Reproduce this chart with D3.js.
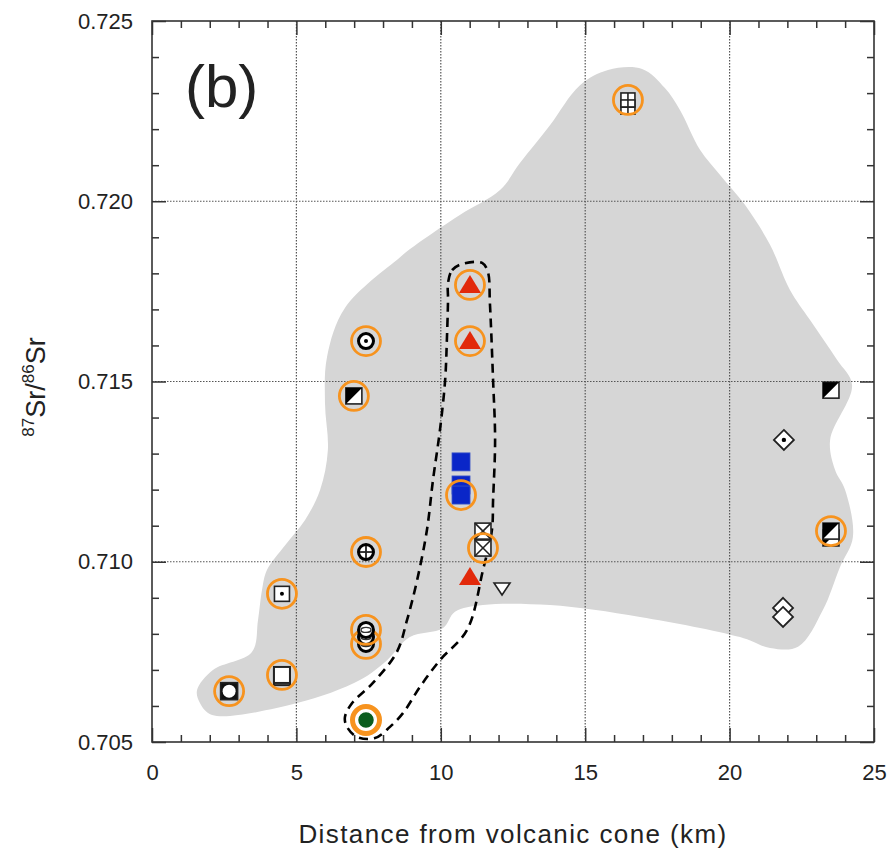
<!DOCTYPE html>
<meta charset="utf-8">
<style>
    body { margin: 0; background: #fff; }
    svg text { font-family: "Liberation Sans", Arial, sans-serif; fill: #222; }
</style>
<svg width="889" height="852" class="srPlot"></svg>
<script src="https://cdn.jsdelivr.net/npm/d3@7"></script>
<script>

// axis ticks
var xMajor = [0, 5, 10, 15, 20, 25];
var yMajor = [0.705, 0.710, 0.715, 0.720, 0.725];
var xGrid = [5, 10, 15, 20];
var yGrid = [0.710, 0.715, 0.720];

// samples: distance (km), 87Sr/86Sr, symbol, orange ring (0 none, 1 thin, 2 thick)
var sampleX = [16.48, 16.48, 11.01, 11.01, 11.01, 7.41, 6.99, 10.70, 10.70, 10.70,
    11.46, 11.46, 12.12, 7.41, 7.41, 7.41, 7.41, 4.50, 4.50, 4.50, 2.67, 7.41,
    21.88, 21.85, 21.85, 23.51, 23.51, 23.51];
var sampleY = [0.72261, 0.72281, 0.71768, 0.71612, 0.70958, 0.71612, 0.71460, 0.71277, 0.71213, 0.71185,
    0.71085, 0.71038, 0.70927, 0.71027, 0.70772, 0.70791, 0.70811, 0.70911, 0.70680, 0.70686, 0.70641, 0.70561,
    0.71338, 0.70872, 0.70847, 0.71476, 0.71066, 0.71085];
var sampleShape = ['gridSquare', 'gridSquare', 'redTriangle', 'redTriangle', 'redTriangle', 'dotCircle', 'halfSquare',
    'blueSquare', 'blueSquare', 'blueSquare', 'crossSquare', 'crossSquare', 'downTriangle', 'plusCircle',
    'thetaCircle', 'thetaCircle', 'thetaCircle', 'dotSquare', 'openSquare', 'openSquare', 'circleSquare', 'greenDot',
    'dotDiamond', 'openDiamond', 'openDiamond', 'halfSquare', 'halfSquare', 'halfSquare'];
var sampleRing = [0, 1, 1, 1, 0, 1, 1, 0, 0, 1,
    0, 1, 0, 1, 1, 0, 1, 1, 0, 1, 1, 2,
    0, 0, 0, 0, 0, 1];

// grey field of all samples
var fieldX = [1.66, 1.56, 2.11, 3.46, 3.67, 3.81, 3.98, 4.61, 5.30, 5.82, 6.09, 5.99, 6.06, 6.68, 8.59, 9.38,
    10.66, 12.05, 12.74, 13.78, 14.82, 15.79, 16.97, 17.76, 18.28, 18.98, 19.67, 20.53, 21.40, 22.09, 22.78,
    23.72, 24.24, 23.48, 23.65, 24.00, 24.27, 23.82, 23.23, 22.37, 21.40, 20.36, 16.90, 13.78, 11.46, 10.49,
    10.08, 8.93, 8.14, 7.20, 5.02, 2.08];
var fieldY = [0.70608, 0.70644, 0.70700, 0.70750, 0.70838, 0.70922, 0.70977, 0.71046, 0.71116, 0.71199, 0.71310,
    0.71440, 0.71568, 0.71704, 0.71845, 0.71893, 0.71962, 0.72031, 0.72106, 0.72211, 0.72322, 0.72364, 0.72367,
    0.72314, 0.72253, 0.72142, 0.72073, 0.71990, 0.71879, 0.71754, 0.71671, 0.71560, 0.71490, 0.71338, 0.71255,
    0.71199, 0.71069, 0.70985, 0.70866, 0.70764, 0.70761, 0.70791, 0.70847, 0.70880, 0.70880, 0.70861, 0.70816,
    0.70791, 0.70727, 0.70672, 0.70608, 0.70575];

// dashed envelope
var loopX = [10.25, 10.39, 10.73, 11.43, 11.63, 11.70, 11.81, 11.88, 11.81, 11.77, 11.46, 10.91, 9.97, 9.28, 8.69,
    8.24, 7.72, 7.10, 6.75, 6.68, 6.93, 7.65, 8.48, 8.83, 9.18, 9.52, 9.73, 9.97, 10.15, 10.21, 10.25];
var loopY = [0.71773, 0.71809, 0.71826, 0.71829, 0.71804, 0.71718, 0.71504, 0.71338, 0.71171, 0.71088, 0.70977,
    0.70811, 0.70727, 0.70653, 0.70580, 0.70542, 0.70511, 0.70514, 0.70542, 0.70569, 0.70608, 0.70664, 0.70750,
    0.70838, 0.70949, 0.71088, 0.71227, 0.71365, 0.71504, 0.71615, 0.71726];


var svg = d3.select("svg.srPlot"),
    margin = {top: 21, right: 15, bottom: 110, left: 152},
    width = +svg.attr("width") - margin.left - margin.right,
    height = +svg.attr("height") - margin.top - margin.bottom;

var x = d3.scaleLinear().domain([0, 25]).range([0, width]);
var y = d3.scaleLinear().domain([0.705, 0.725]).range([height, 0]);

var focus = svg.append("g")
    .attr("transform", "translate(" + margin.left + "," + margin.top + ")");

var field = fieldX.map(function(d, i){ return [d, fieldY[i]] });
var loop = loopX.map(function(d, i){ return [d, loopY[i]] });

var area = d3.line()
    .x(function(d){ return x(d[0]) })
    .y(function(d){ return y(d[1]) })
    .curve(d3.curveCatmullRomClosed.alpha(0.5));

focus.append("path")
    .datum(field)
    .attr("fill", "#d6d6d6")
    .attr("d", area);

// grid
focus.selectAll("line.gx").data(xGrid).enter().append("line")
    .attr("x1", function(d){ return x(d) }).attr("x2", function(d){ return x(d) })
    .attr("y1", 0).attr("y2", height)
    .attr("stroke", "#555").attr("stroke-width", 1.2).attr("stroke-dasharray", "1.5,1.5");
focus.selectAll("line.gy").data(yGrid).enter().append("line")
    .attr("y1", function(d){ return y(d) }).attr("y2", function(d){ return y(d) })
    .attr("x1", 0).attr("x2", width)
    .attr("stroke", "#555").attr("stroke-width", 1.2).attr("stroke-dasharray", "1.5,1.5");

focus.append("path")
    .datum(loop)
    .attr("fill", "none")
    .attr("stroke", "#000")
    .attr("stroke-width", 2.6)
    .attr("stroke-dasharray", "9,6")
    .attr("d", area);

// symbols
function drawSymbol(g, shape){
    var s = 8;
    function sq(fill, sw){
        g.append("rect").attr("x", -s).attr("y", -s).attr("width", 2*s).attr("height", 2*s)
            .attr("fill", fill).attr("stroke", "#222").attr("stroke-width", sw || 1.6);
    }
    function ln(x1, y1, x2, y2, w){
        g.append("line").attr("x1", x1).attr("y1", y1).attr("x2", x2).attr("y2", y2)
            .attr("stroke", "#222").attr("stroke-width", w || 1.6);
    }
    if (shape === 'gridSquare') { s = 7; sq("#fff"); ln(0, -s, 0, s); ln(-s, 0, s, 0); }
    else if (shape === 'crossSquare') { sq("#fff"); ln(-s, -s, s, s); ln(-s, s, s, -s); }
    else if (shape === 'dotSquare') { s = 7.5; sq("#fff"); g.append("circle").attr("r", 2).attr("fill", "#000"); }
    else if (shape === 'openSquare') { sq("#fff", 2); }
    else if (shape === 'halfSquare') {
        sq("#fff");
        g.append("path").attr("d", "M" + (-s) + "," + (-s) + "L" + s + "," + (-s) + "L" + (-s) + "," + s + "Z").attr("fill", "#000");
    }
    else if (shape === 'circleSquare') {
        s = 8.5; sq("#111");
        g.append("circle").attr("r", 6.5).attr("fill", "#fff");
    }
    else if (shape === 'blueSquare') {
        s = 9;
        g.append("rect").attr("x", -s).attr("y", -s).attr("width", 2*s).attr("height", 2*s)
            .attr("fill", "#0a26c8").attr("stroke", "#3a55c8").attr("stroke-width", 0.8);
    }
    else if (shape === 'redTriangle') {
        g.append("path").attr("d", "M0,-10L11,8L-11,8Z").attr("fill", "#e2290b");
    }
    else if (shape === 'downTriangle') {
        g.append("path").attr("d", "M-8,-5L8,-5L0,7Z").attr("fill", "#fff").attr("stroke", "#222").attr("stroke-width", 1.6);
    }
    else if (shape === 'dotDiamond' || shape === 'openDiamond') {
        g.append("path").attr("d", "M0,-10L10,0L0,10L-10,0Z").attr("fill", "#fff").attr("stroke", "#222").attr("stroke-width", 1.8);
        if (shape === 'dotDiamond') g.append("circle").attr("r", 2.2).attr("fill", "#000");
    }
    else if (shape === 'dotCircle' || shape === 'plusCircle' || shape === 'thetaCircle') {
        g.append("circle").attr("r", 7.5).attr("fill", "#fff").attr("stroke", "#000").attr("stroke-width", 3);
        if (shape === 'dotCircle') g.append("circle").attr("r", 2).attr("fill", "#000");
        if (shape === 'plusCircle') { ln(-6, 0, 6, 0, 1.8); ln(0, -6, 0, 6, 1.8); }
        if (shape === 'thetaCircle') g.append("ellipse").attr("rx", 5).attr("ry", 2.5).attr("fill", "none").attr("stroke", "#333").attr("stroke-width", 1.4);
    }
    else if (shape === 'greenDot') {
        g.append("circle").attr("r", 8.5).attr("fill", "#0b5d1e").attr("stroke", "#fff").attr("stroke-width", 1.5);
    }
}

var samples = sampleX.map(function(d, i){
    return {x: d, y: sampleY[i], shape: sampleShape[i], ring: sampleRing[i]};
});

var pts = focus.selectAll("g.sample")
    .data(samples)
    .enter()
    .append("g")
    .classed("sample", true)
    .attr("transform", function(d){ return "translate(" + x(d.x) + "," + y(d.y) + ")" });

pts.each(function(d){
    var g = d3.select(this);
    drawSymbol(g, d.shape);
    if (d.ring === 1) {
        g.append("circle").attr("r", 14.5).attr("fill", "none").attr("stroke", "#f7931e").attr("stroke-width", 2.8);
    } else if (d.ring === 2) {
        g.append("circle").attr("r", 13.5).attr("fill", "none").attr("stroke", "#f7931e").attr("stroke-width", 5);
    }
});

// axes, ticks pointing inwards on all four sides
var xMinor = d3.range(0, 26, 1).filter(function(d){ return d % 5 !== 0 });
var yMinor = d3.range(0, 21, 1).filter(function(d){ return d % 5 !== 0 }).map(function(d){ return 0.705 + d/1000 });

function styleAxis(g){
    g.select(".domain").remove();
    g.selectAll(".tick line").attr("stroke", "#333").attr("stroke-width", 1.5);
    g.selectAll(".tick text").attr("font-size", 22).attr("fill", "#222")
        .style("font-family", "'Liberation Sans', Arial, sans-serif");
}

focus.append("g").attr("transform", "translate(0," + height + ")")
    .call(d3.axisBottom(x).tickValues(xMajor).tickSize(-14).tickPadding(22).tickFormat(d3.format("d")))
    .call(styleAxis);
focus.append("g").attr("transform", "translate(0," + height + ")")
    .call(d3.axisBottom(x).tickValues(xMinor).tickSize(-7).tickFormat(""))
    .call(styleAxis);
focus.append("g")
    .call(d3.axisTop(x).tickValues(xMajor).tickSize(-14).tickFormat(""))
    .call(styleAxis);
focus.append("g")
    .call(d3.axisTop(x).tickValues(xMinor).tickSize(-7).tickFormat(""))
    .call(styleAxis);

focus.append("g")
    .call(d3.axisLeft(y).tickValues(yMajor).tickSize(-14).tickPadding(19).tickFormat(d3.format(".3f")))
    .call(styleAxis);
focus.append("g")
    .call(d3.axisLeft(y).tickValues(yMinor).tickSize(-7).tickFormat(""))
    .call(styleAxis);
focus.append("g").attr("transform", "translate(" + width + ",0)")
    .call(d3.axisRight(y).tickValues(yMajor).tickSize(-14).tickFormat(""))
    .call(styleAxis);
focus.append("g").attr("transform", "translate(" + width + ",0)")
    .call(d3.axisRight(y).tickValues(yMinor).tickSize(-7).tickFormat(""))
    .call(styleAxis);

focus.append("rect")
    .attr("width", width).attr("height", height)
    .attr("fill", "none").attr("stroke", "#333").attr("stroke-width", 1.6);

// labels
focus.append("text")
    .attr("x", 33).attr("y", 86)
    .attr("font-size", 60)
    .text("(b)");

svg.append("text")
    .attr("x", margin.left + width/2).attr("y", 843)
    .attr("text-anchor", "middle")
    .attr("font-size", 26)
    .attr("letter-spacing", 1.4)
    .text("Distance from volcanic cone (km)");

var yl = svg.append("text")
    .attr("transform", "translate(45,387) rotate(-90)")
    .attr("text-anchor", "middle")
    .attr("font-size", 27);
yl.append("tspan").attr("font-size", 17).attr("dy", -11).text("87");
yl.append("tspan").attr("dy", 11).text("Sr/");
yl.append("tspan").attr("font-size", 17).attr("dy", -11).text("86");
yl.append("tspan").attr("dy", 11).text("Sr");

</script>
